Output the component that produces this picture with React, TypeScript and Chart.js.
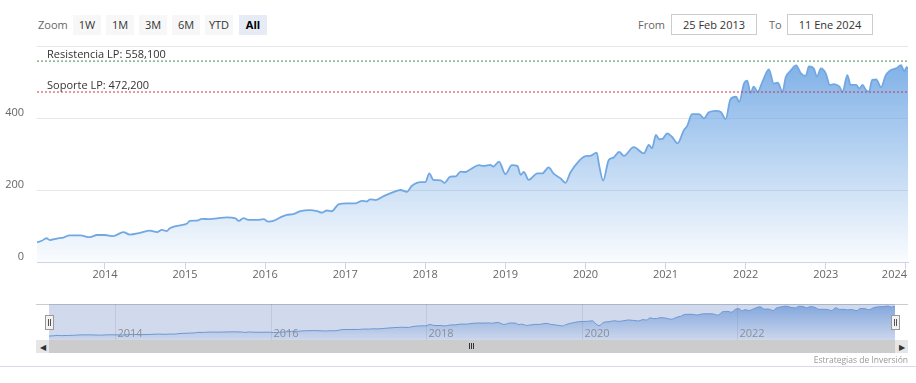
import React, { useEffect, useRef } from "react";
import { Chart, registerables } from "chart.js";

Chart.register(...registerables);

// ---- Data (time as decimal years) ----
const timeYears = [
  2013.151, 2013.21, 2013.27, 2013.31, 2013.4, 2013.48, 2013.56, 2013.69, 2013.81, 2013.9,
  2014.0, 2014.1, 2014.23, 2014.31, 2014.44, 2014.56, 2014.65, 2014.71, 2014.77, 2014.81,
  2014.94, 2015.02, 2015.06, 2015.15, 2015.21, 2015.31, 2015.4, 2015.52, 2015.63, 2015.67,
  2015.73, 2015.79, 2015.9, 2015.98, 2016.04, 2016.1, 2016.19, 2016.27, 2016.35, 2016.44,
  2016.56, 2016.65, 2016.71, 2016.77, 2016.83, 2016.92, 2017.02, 2017.13, 2017.21, 2017.27,
  2017.31, 2017.38, 2017.48, 2017.6, 2017.69, 2017.77, 2017.83, 2017.94, 2018.0, 2018.05,
  2018.1, 2018.19, 2018.24, 2018.31, 2018.38, 2018.44, 2018.5, 2018.56, 2018.67, 2018.73,
  2018.81, 2018.85, 2018.92, 2019.0, 2019.08, 2019.15, 2019.19, 2019.23, 2019.29, 2019.4,
  2019.46, 2019.54, 2019.6, 2019.69, 2019.75, 2019.81, 2019.92, 2020.0, 2020.06, 2020.14,
  2020.17, 2020.22, 2020.29, 2020.35, 2020.42, 2020.48, 2020.6, 2020.73, 2020.79, 2020.83,
  2020.88, 2020.92, 2020.96, 2021.02, 2021.08, 2021.15, 2021.23, 2021.27, 2021.33, 2021.42,
  2021.48, 2021.54, 2021.63, 2021.69, 2021.75, 2021.81, 2021.88, 2021.92, 2021.98, 2022.02,
  2022.06, 2022.1, 2022.15, 2022.21, 2022.29, 2022.35, 2022.4, 2022.46, 2022.5, 2022.56,
  2022.63, 2022.69, 2022.75, 2022.79, 2022.85, 2022.89, 2022.94, 2023.0, 2023.05, 2023.1,
  2023.17, 2023.21, 2023.27, 2023.31, 2023.38, 2023.42, 2023.46, 2023.5, 2023.54, 2023.58,
  2023.63, 2023.69, 2023.75, 2023.81, 2023.88, 2023.94, 2023.98, 2024.01, 2024.027,
];
const closeValues = [
  55, 59, 66, 61, 65, 68, 74, 74, 69, 75,
  75, 72, 83, 76, 81, 87, 83, 89, 86, 94,
  102, 106, 114, 115, 120, 119, 121, 124, 121, 114,
  122, 117, 117, 119, 112, 114, 124, 131, 133, 141,
  144, 141, 137, 143, 141, 161, 163, 163, 170, 168,
  174, 172, 183, 194, 200, 195, 211, 222, 222, 246,
  228, 227, 220, 237, 238, 251, 250, 257, 269, 267,
  270, 265, 279, 244, 269, 267, 242, 250, 228, 246,
  246, 263, 246, 232, 220, 248, 281, 294, 295, 304,
  269, 226, 283, 290, 306, 295, 319, 302, 325, 316,
  353, 341, 342, 357, 348, 330, 367, 378, 411, 411,
  399, 416, 420, 417, 397, 452, 459, 445, 496, 504,
  469, 487, 473, 501, 535, 496, 498, 473, 513, 531,
  546, 524, 517, 543, 538, 515, 538, 524, 492, 494,
  487, 473, 519, 492, 492, 482, 492, 478, 473, 506,
  507, 485, 519, 533, 538, 547, 529, 541, 538,
];

const resistanceValue = 558.1;
const supportValue = 472.2;
const resistanceLabel = "Resistencia LP: 558,100";
const supportLabel = "Soporte LP: 472,200";

const yTickValues = [0, 200, 400, 600];
const yearTicks = [2014, 2015, 2016, 2017, 2018, 2019, 2020, 2021, 2022, 2023, 2024];
const navYearTicks = [2014, 2016, 2018, 2020, 2022];

const xMin = 2013.151;
const xMax = 2024.027;

const zoomLabel = "Zoom";
const zoomButtons = ["1W", "1M", "3M", "6M", "YTD", "All"];
const fromLabel = "From";
const toLabel = "To";
const fromDate = "25 Feb 2013";
const toDate = "11 Ene 2024";
const creditText = "Estrategias de Inversión";

const FONT = '"Open Sans", sans-serif';

function MainChart() {
  const ref = useRef<HTMLCanvasElement | null>(null);
  useEffect(() => {
    if (!ref.current) return;
    const points = timeYears.map((t, i) => ({ x: t, y: closeValues[i] }));
    const overlay = {
      id: "overlay",
      afterDraw(chart: any) {
        const ctx = chart.ctx;
        const xs = chart.scales.x;
        const ys = chart.scales.y;
        const a = chart.chartArea;
        ctx.save();
        ctx.font = `11px ${FONT}`;
        ctx.fillStyle = "#333333";
        ctx.textAlign = "left";
        ctx.textBaseline = "alphabetic";
        ctx.fillText(resistanceLabel, a.left + 10, ys.getPixelForValue(resistanceValue) - 3);
        ctx.fillText(supportLabel, a.left + 10, ys.getPixelForValue(supportValue) - 3);
        ctx.fillStyle = "#666666";
        ctx.textAlign = "center";
        ctx.textBaseline = "middle";
        yearTicks.forEach((v) => {
          const s = String(v);
          const w = ctx.measureText(s).width;
          let px = xs.getPixelForValue(v);
          px = Math.min(px, a.right - w / 2 - 1);
          ctx.fillText(s, px, a.bottom + 13);
        });
        ctx.restore();
      },
    };
    const chart = new Chart(ref.current, {
      type: "line",
      data: {
        datasets: [
          {
            data: [
              { x: xMin, y: resistanceValue },
              { x: xMax, y: resistanceValue },
            ],
            borderColor: "#3f8f3f",
            borderWidth: 1,
            borderDash: [2, 2],
            pointRadius: 0,
            fill: false,
            order: 0,
          },
          {
            data: [
              { x: xMin, y: supportValue },
              { x: xMax, y: supportValue },
            ],
            borderColor: "#c83a4e",
            borderWidth: 1,
            borderDash: [2, 2],
            pointRadius: 0,
            fill: false,
            order: 1,
          },
          {
            data: points,
            borderColor: "#72a8e2",
            borderWidth: 1.8,
            pointRadius: 0,
            tension: 0.3,
            cubicInterpolationMode: "monotone",
            fill: "origin",
            backgroundColor: (c: any) => {
              const chart = c.chart;
              const a = chart.chartArea;
              if (!a) return "rgba(110,166,228,0.5)";
              const g = chart.ctx.createLinearGradient(0, a.top, 0, a.bottom);
              g.addColorStop(0, "rgba(110,166,228,0.95)");
              g.addColorStop(1, "rgba(110,166,228,0.03)");
              return g;
            },
            order: 2,
          },
        ],
      },
      options: {
        animation: false,
        responsive: false,
        maintainAspectRatio: false,
        layout: { padding: { top: 6, right: 8, left: 0, bottom: 0 } },
        plugins: { legend: { display: false }, tooltip: { enabled: false } },
        scales: {
          x: {
            type: "linear",
            min: xMin,
            max: xMax,
            afterBuildTicks: (s: any) => {
              s.ticks = yearTicks.map((v) => ({ value: v }));
            },
            afterFit: (s: any) => {
              s.height = 28;
              s.paddingLeft = 0;
              s.paddingRight = 0;
            },
            ticks: { display: false },
            grid: { drawOnChartArea: false, drawTicks: true, tickLength: 7, color: "#ccd6eb" },
            border: { color: "#ccd6eb" },
          },
          y: {
            min: 0,
            max: 600,
            afterBuildTicks: (s: any) => {
              s.ticks = yTickValues.map((v) => ({ value: v }));
            },
            afterFit: (s: any) => {
              s.width = 37;
              s.paddingTop = 0;
              s.paddingBottom = 0;
            },
            ticks: {
              padding: 13,
              labelOffset: -5,
              color: "#666666",
              font: { family: FONT, size: 11 },
              callback: (v: any) => (v === 600 ? "" : String(v)),
            },
            grid: { color: "#e6e6e6", drawTicks: false },
            border: { display: false },
          },
        },
      },
      plugins: [overlay],
    } as any);
    return () => chart.destroy();
  }, []);
  return (
    <canvas
      ref={ref}
      width={916}
      height={250}
      style={{ position: "absolute", left: 0, top: 40, width: 916, height: 250 }}
    />
  );
}

function NavigatorChart() {
  const ref = useRef<HTMLCanvasElement | null>(null);
  useEffect(() => {
    if (!ref.current) return;
    const points = timeYears.map((t, i) => ({ x: t, y: closeValues[i] }));
    const navPlugin = {
      id: "nav",
      afterDatasetsDraw(chart: any) {
        const ctx = chart.ctx;
        const xs = chart.scales.x;
        const a = chart.chartArea;
        ctx.save();
        ctx.fillStyle = "rgba(102,133,194,0.3)";
        ctx.fillRect(a.left, a.top, a.right - a.left, a.bottom - a.top);
        ctx.strokeStyle = "rgba(80,90,110,0.13)";
        ctx.lineWidth = 1;
        ctx.font = `11px ${FONT}`;
        ctx.fillStyle = "#8a8f99";
        ctx.textAlign = "left";
        ctx.textBaseline = "middle";
        navYearTicks.forEach((v) => {
          const px = Math.round(xs.getPixelForValue(v)) + 0.5;
          ctx.beginPath();
          ctx.moveTo(px, a.top);
          ctx.lineTo(px, a.bottom);
          ctx.stroke();
          ctx.fillText(String(v), px + 2, a.bottom - 6);
        });
        ctx.restore();
      },
    };
    const chart = new Chart(ref.current, {
      type: "line",
      data: {
        datasets: [
          {
            data: points,
            borderColor: "#6f9fd8",
            borderWidth: 1,
            pointRadius: 0,
            tension: 0.3,
            cubicInterpolationMode: "monotone",
            fill: "origin",
            backgroundColor: (c: any) => {
              const chart = c.chart;
              const a = chart.chartArea;
              if (!a) return "rgba(110,160,225,0.4)";
              const g = chart.ctx.createLinearGradient(0, a.top, 0, a.bottom);
              g.addColorStop(0, "rgba(110,160,225,0.8)");
              g.addColorStop(1, "rgba(110,160,225,0.05)");
              return g;
            },
          },
        ],
      },
      options: {
        animation: false,
        responsive: false,
        maintainAspectRatio: false,
        layout: { padding: 0 },
        plugins: { legend: { display: false }, tooltip: { enabled: false } },
        scales: {
          x: { type: "linear", min: xMin, max: xMax, display: false },
          y: { min: -10, max: 580, display: false },
        },
      },
      plugins: [navPlugin],
    } as any);
    return () => chart.destroy();
  }, []);
  return (
    <canvas
      ref={ref}
      width={846}
      height={36}
      style={{ position: "absolute", left: 49, top: 304, width: 846, height: 36 }}
    />
  );
}

const abs = (o: React.CSSProperties): React.CSSProperties => ({ position: "absolute", ...o });

export default function App() {
  const btnLefts = [73, 106, 139, 172, 205, 239];
  return (
    <div
      style={abs({
        left: 0,
        top: 0,
        width: 916,
        height: 383,
        background: "#ffffff",
        fontFamily: FONT,
        overflow: "hidden",
      })}
    >
      <div style={abs({ left: 38, top: 15, height: 20, lineHeight: "20px", fontSize: 11, color: "#666666" })}>
        {zoomLabel}
      </div>
      {zoomButtons.map((b, i) => {
        const active = b === "All";
        return (
          <div
            key={b}
            style={abs({
              left: btnLefts[i],
              top: 15,
              width: 28,
              height: 20,
              lineHeight: "20px",
              textAlign: "center",
              fontSize: 11,
              background: active ? "#e6ebf5" : "#f7f7f7",
              color: active ? "#000000" : "#333333",
              fontWeight: active ? 700 : 400,
            })}
          >
            {b}
          </div>
        );
      })}
      <div style={abs({ left: 638, top: 15, height: 20, lineHeight: "20px", fontSize: 11, color: "#666666" })}>
        {fromLabel}
      </div>
      <div
        style={abs({
          left: 671,
          top: 14,
          width: 84,
          height: 19,
          lineHeight: "19px",
          border: "1px solid #cccccc",
          textAlign: "center",
          fontSize: 11,
          color: "#333333",
        })}
      >
        {fromDate}
      </div>
      <div style={abs({ left: 769, top: 15, height: 20, lineHeight: "20px", fontSize: 11, color: "#666666" })}>
        {toLabel}
      </div>
      <div
        style={abs({
          left: 787,
          top: 14,
          width: 84,
          height: 19,
          lineHeight: "19px",
          border: "1px solid #cccccc",
          textAlign: "center",
          fontSize: 11,
          color: "#333333",
        })}
      >
        {toDate}
      </div>

      <MainChart />

      {/* navigator */}
      <div style={abs({ left: 36, top: 304, width: 872, height: 1, background: "#cccccc" })} />
      <NavigatorChart />
      {/* handles */}
      <div
        style={abs({
          left: 45,
          top: 315,
          width: 7,
          height: 13,
          background: "#f2f2f2",
          border: "1px solid #999999",
        })}
      >
        <div style={abs({ left: 2, top: 3, width: 1, height: 7, background: "#555" })} />
        <div style={abs({ left: 4, top: 3, width: 1, height: 7, background: "#555" })} />
      </div>
      <div
        style={abs({
          left: 891,
          top: 315,
          width: 7,
          height: 13,
          background: "#f2f2f2",
          border: "1px solid #999999",
        })}
      >
        <div style={abs({ left: 2, top: 3, width: 1, height: 7, background: "#555" })} />
        <div style={abs({ left: 4, top: 3, width: 1, height: 7, background: "#555" })} />
      </div>
      {/* scrollbar */}
      <div style={abs({ left: 36, top: 340, width: 872, height: 13, background: "#cccccc" })} />
      <div
        style={abs({
          left: 36,
          top: 340,
          width: 13,
          height: 13,
          background: "#e6e6e6",
          fontSize: 8,
          lineHeight: "13px",
          textAlign: "center",
          color: "#333",
        })}
      >
        ◀
      </div>
      <div
        style={abs({
          left: 895,
          top: 340,
          width: 13,
          height: 13,
          background: "#e6e6e6",
          fontSize: 8,
          lineHeight: "13px",
          textAlign: "center",
          color: "#333",
        })}
      >
        ▶
      </div>
      <div style={abs({ left: 469, top: 343, width: 1, height: 6, background: "#333" })} />
      <div style={abs({ left: 471, top: 343, width: 1, height: 6, background: "#333" })} />
      <div style={abs({ left: 473, top: 343, width: 1, height: 6, background: "#333" })} />

      <div
        style={abs({
          right: 8,
          top: 353,
          height: 13,
          lineHeight: "13px",
          fontSize: 8.5,
          color: "#999999",
        })}
      >
        {creditText}
      </div>
      <div style={abs({ left: 0, top: 366, width: 916, height: 1, background: "#d8d8e6" })} />
    </div>
  );
}
